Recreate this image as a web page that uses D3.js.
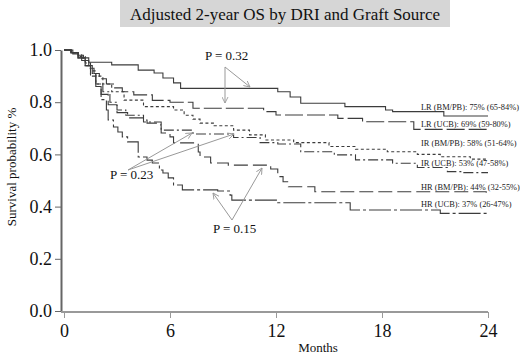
<!DOCTYPE html>
<html>
<head>
<meta charset="utf-8">
<script src="https://cdn.jsdelivr.net/npm/d3@7"></script>
<style>
body { margin: 0; background: #fff; }
svg { display: block; font-family: "Liberation Serif", "Times New Roman", serif; }
</style>
</head>
<body>
<div id="chart"></div>
<script>
// step points [month, survival]
const lrBmpb = [[0,1],[0.4,0.99],[0.8,0.98],[1.1,0.97],[1.4,0.953],[2.7,0.943],[4.2,0.923],[5.1,0.912],[5.6,0.893],[6.2,0.874],[6.6,0.853],[12.1,0.84],[12.8,0.82],[13.4,0.796],[15.9,0.783],[18.2,0.77],[18.6,0.764],[21.5,0.747],[24,0.747]];
const lrUcb = [[0,1],[0.5,0.985],[1.0,0.96],[1.4,0.93],[1.7,0.91],[2.0,0.89],[2.4,0.87],[2.8,0.855],[3.3,0.84],[3.95,0.828],[5.0,0.807],[6.0,0.8],[7.3,0.777],[11.3,0.764],[12.0,0.751],[15.5,0.738],[16.9,0.725],[19.8,0.696],[24,0.696]];
const irBmpb = [[0,1],[0.4,0.99],[0.8,0.975],[1.2,0.95],[1.5,0.92],[1.8,0.9],[2.2,0.87],[2.7,0.84],[3.4,0.808],[4.5,0.783],[6.2,0.77],[6.8,0.75],[7.3,0.735],[7.7,0.72],[8.5,0.71],[9.6,0.693],[10.5,0.675],[11.4,0.655],[13,0.645],[15,0.63],[16.5,0.62],[18.3,0.61],[20,0.6],[21.3,0.591],[23,0.582],[24,0.582]];
const irUcb = [[0,1],[0.4,0.99],[0.8,0.97],[1.2,0.94],[1.5,0.9],[1.8,0.87],[2.2,0.84],[2.6,0.8],[3.0,0.77],[3.5,0.75],[4.5,0.724],[5.5,0.693],[7.3,0.678],[9.6,0.665],[11.1,0.645],[12.1,0.64],[13.4,0.61],[15.3,0.598],[16.5,0.579],[18.6,0.566],[20,0.55],[21.7,0.534],[22.5,0.53],[24,0.53]];
const hrBmpb = [[0,1],[0.4,0.99],[0.8,0.97],[1.2,0.94],[1.5,0.9],[1.8,0.87],[2.1,0.83],[2.5,0.79],[3.0,0.76],[3.6,0.74],[4.5,0.732],[4.7,0.72],[5.3,0.713],[5.5,0.682],[6.0,0.667],[6.2,0.644],[7.6,0.609],[7.7,0.59],[8.3,0.567],[9.3,0.559],[11.7,0.544],[12.1,0.515],[12.4,0.495],[12.7,0.476],[14.2,0.457],[23.9,0.444],[24,0.444]];
const hrUcb = [[0,1],[0.4,0.99],[0.8,0.97],[1.2,0.94],[1.6,0.91],[1.8,0.86],[2.1,0.81],[2.4,0.77],[2.5,0.732],[2.8,0.705],[3.05,0.686],[3.3,0.667],[3.6,0.648],[4.2,0.59],[4.7,0.578],[5.0,0.567],[5.4,0.54],[5.6,0.529],[5.9,0.51],[6.2,0.483],[6.7,0.464],[8.7,0.46],[9.4,0.444],[9.5,0.425],[12.1,0.415],[16.2,0.387],[21.3,0.374],[24,0.374]];

const curveLabels = ["LR (BM/PB): 75% (65-84%)", "LR (UCB): 69% (59-80%)", "IR (BM/PB): 58% (51-64%)", "IR (UCB): 53% (47-58%)", "HR (BM/PB): 44% (32-55%)", "HR (UCB): 37% (26-47%)"];
const xTicks = [0, 6, 12, 18, 24];
const yTicks = [0, 0.2, 0.4, 0.6, 0.8, 1.0];

const W = 520, H = 355;
const series = [
    { pts: lrBmpb, dash: null,          labelY: 110 },
    { pts: lrUcb,  dash: "18,4",        labelY: 127 },
    { pts: irBmpb, dash: "3,2.5",       labelY: 146 },
    { pts: irUcb,  dash: "10,3,2,3",    labelY: 166 },
    { pts: hrBmpb, dash: "14,5",        labelY: 190 },
    { pts: hrUcb,  dash: "22,3,3,3",    labelY: 207 }
];

const svg = d3.select("#chart").append("svg")
    .attr("width", W)
    .attr("height", H);

const x = d3.scaleLinear().domain([0, 24]).range([64, 488]);
const y = d3.scaleLinear().domain([0, 1]).range([311, 50]);

// title box
svg.append("rect")
    .attr("x", 120).attr("y", 0)
    .attr("width", 330).attr("height", 27)
    .attr("fill", "#d6d6d6");
svg.append("text")
    .attr("x", 285).attr("y", 20)
    .attr("text-anchor", "middle")
    .attr("font-size", 17)
    .attr("fill", "#111")
    .text("Adjusted 2-year OS by DRI and Graft Source");

// y axis
const yAxis = svg.append("g")
    .attr("transform", "translate(61,0)")
    .call(d3.axisLeft(y).tickValues(yTicks).tickFormat(d3.format(".1f")).tickSize(6).tickPadding(3).tickSizeOuter(0));
yAxis.select(".domain").attr("stroke", "#666").attr("stroke-width", 2);
yAxis.selectAll(".tick line").attr("stroke", "#666");
yAxis.selectAll(".tick text")
    .attr("font-family", "Liberation Serif, serif")
    .attr("font-size", 18)
    .attr("fill", "#111");

// x axis
const xAxis = svg.append("g")
    .attr("transform", "translate(0,312)")
    .call(d3.axisBottom(x).tickValues(xTicks).tickSize(6).tickPadding(6).tickSizeOuter(0))
    .call(g => g.select(".domain").remove());
xAxis.append("line")
    .attr("x1", -3 + x(0)).attr("x2", x(24))
    .attr("stroke", "#999").attr("stroke-width", 2);
xAxis.selectAll(".tick line").attr("stroke", "#999");
xAxis.selectAll(".tick text")
    .attr("font-family", "Liberation Serif, serif")
    .attr("font-size", 18)
    .attr("fill", "#111");

svg.append("text")
    .attr("x", 318).attr("y", 352)
    .attr("text-anchor", "middle")
    .attr("font-size", 13)
    .attr("fill", "#111")
    .text("Months");

svg.append("text")
    .attr("transform", "translate(16,167) rotate(-90)")
    .attr("text-anchor", "middle")
    .attr("font-size", 13)
    .attr("fill", "#111")
    .text("Survival probability %");

// survival curves
const line = d3.line()
    .x(d => x(d[0]))
    .y(d => y(d[1]))
    .curve(d3.curveStepAfter);

series.forEach((s, i) => {
    svg.append("path")
        .datum(s.pts)
        .attr("d", line)
        .attr("fill", "none")
        .attr("stroke", "#3c3c3c")
        .attr("stroke-width", 1.1)
        .attr("stroke-dasharray", s.dash);

    svg.append("text")
        .attr("x", 421).attr("y", s.labelY)
        .attr("font-size", 8.4)
        .attr("fill", "#222")
        .text(curveLabels[i]);
});

// p-value annotations
svg.append("defs").append("marker")
    .attr("id", "arr")
    .attr("viewBox", "0 0 8 8")
    .attr("refX", 7).attr("refY", 4)
    .attr("markerWidth", 7).attr("markerHeight", 7)
    .attr("markerUnits", "userSpaceOnUse")
    .attr("orient", "auto")
    .append("path")
    .attr("d", "M0,0.5 L7,4 L0,7.5")
    .attr("fill", "none")
    .attr("stroke", "#999")
    .attr("stroke-width", 1);

const pNotes = [
    { text: "P = 0.32", tx: 205, ty: 60, from: [225, 67], to: [[225, 103], [250, 87]] },
    { text: "P = 0.23", tx: 110, ty: 179, from: [128, 170], to: [[192, 133], [234, 134]] },
    { text: "P = 0.15", tx: 213, ty: 233, from: [232, 220], to: [[213, 193], [262, 168]] }
];

pNotes.forEach(p => {
    p.to.forEach(t => {
        svg.append("line")
            .attr("x1", p.from[0]).attr("y1", p.from[1])
            .attr("x2", t[0]).attr("y2", t[1])
            .attr("stroke", "#999")
            .attr("stroke-width", 1)
            .attr("marker-end", "url(#arr)");
    });
    svg.append("text")
        .attr("x", p.tx).attr("y", p.ty)
        .attr("font-size", 13)
        .attr("fill", "#111")
        .text(p.text);
});
</script>
</body>
</html>
